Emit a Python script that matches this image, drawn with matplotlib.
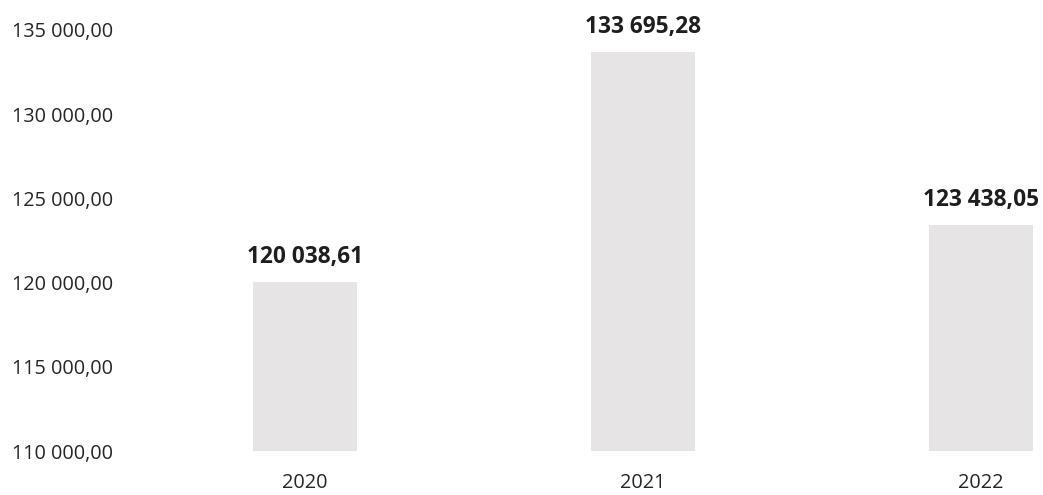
import matplotlib
matplotlib.use("Agg")
import matplotlib.pyplot as plt

categories = ["2020", "2021", "2022"]
values = [120038.61, 133695.28, 123438.05]
y_ticks = [110000, 115000, 120000, 125000, 130000, 135000]

def fmt(v):
    s = f"{v:,.2f}"
    return s.replace(",", " ").replace(".", ",")

plt.rcParams['font.family'] = ['Open Sans', 'DejaVu Sans']

W, H = 1043, 495
fig = plt.figure(figsize=(W / 100, H / 100), dpi=100)
ax = fig.add_axes([130 / W, (H - 451) / H, (W - 130) / W, (451 - 30) / H])

x = list(range(len(categories)))
ax.bar(x, [v - y_ticks[0] for v in values], bottom=y_ticks[0], width=0.31,
       color="#e6e4e4", edgecolor="none")

for xi, v in zip(x, values):
    ax.annotate(fmt(v), (xi, v), xytext=(0, 13.5), textcoords="offset points",
                ha="center", va="baseline", fontsize=16.3, fontweight="bold",
                color="#1e1e1e", annotation_clip=False)

ax.set_ylim(y_ticks[0], y_ticks[-1])
ax.set_xlim(-(305 - 130) / 338, 2 + (1043 - 981) / 338)
ax.set_yticks(y_ticks)
ax.set_yticklabels([fmt(t) for t in y_ticks])
ax.set_xticks(x)
ax.set_xticklabels(categories)
ax.tick_params(axis="y", length=0, pad=12, labelsize=14.3, labelcolor="#262626")
ax.tick_params(axis="x", length=0, pad=16, labelsize=14.3, labelcolor="#262626")
for s in ax.spines.values():
    s.set_visible(False)

fig.savefig("out.png", dpi=100)
